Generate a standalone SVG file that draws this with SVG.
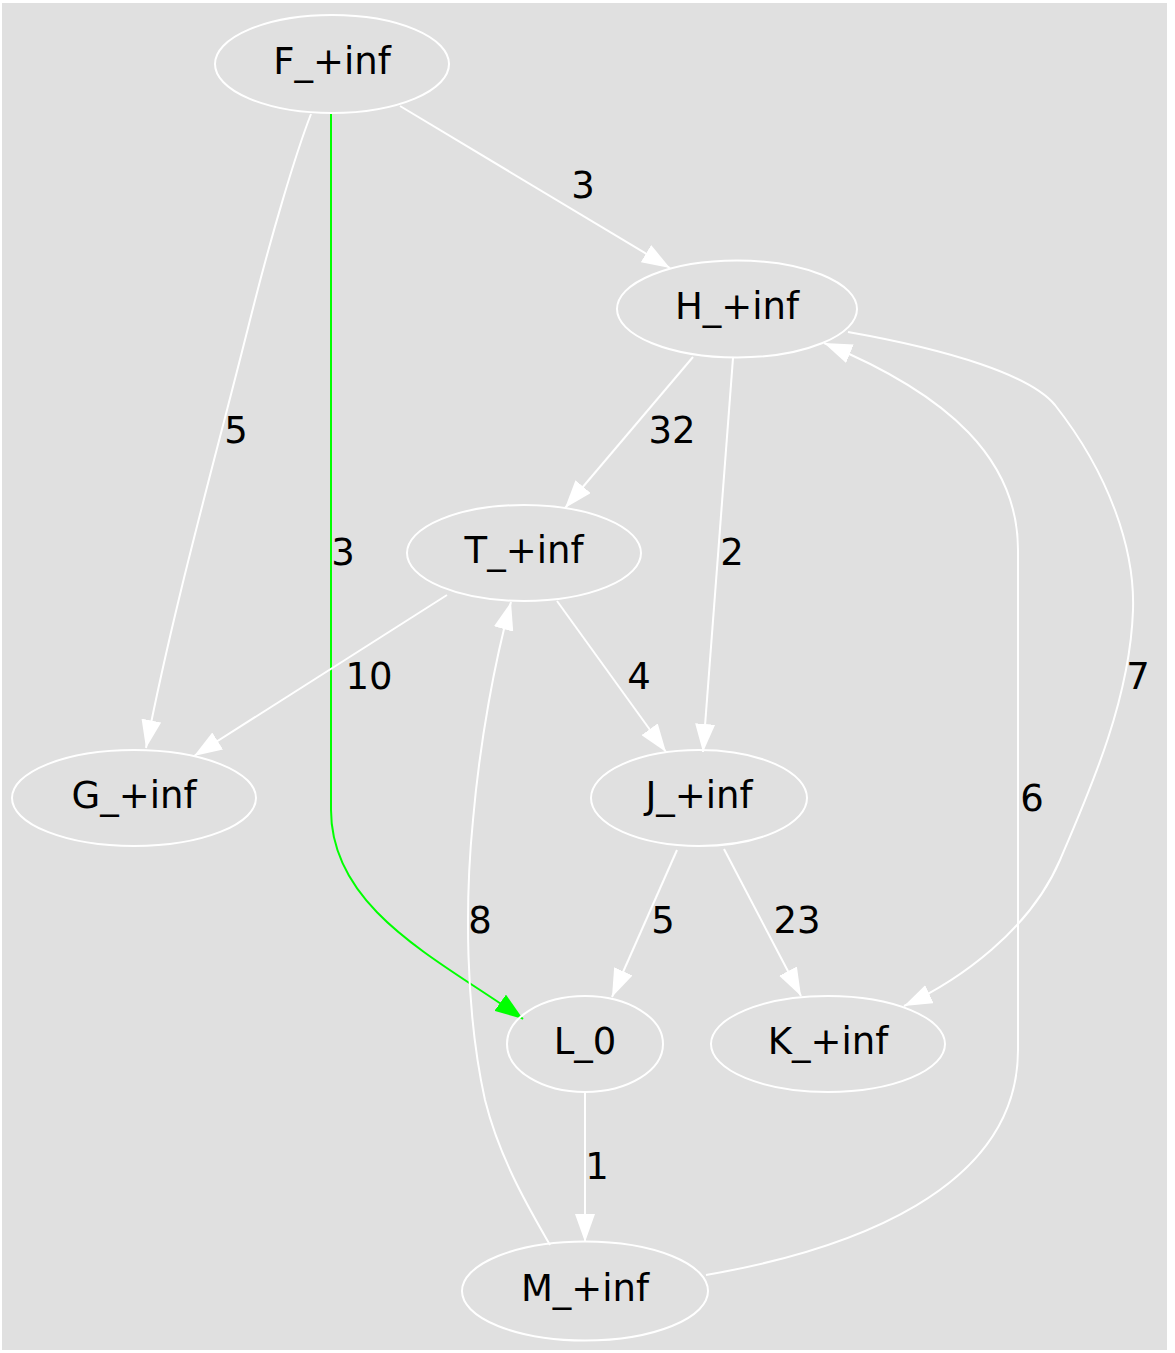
<svg xmlns="http://www.w3.org/2000/svg" width="1175" height="1353" viewBox="0 0 1175 1353">
<style>
.n ellipse{fill:none;stroke:#ffffff;stroke-width:2}
text{font-family:"DejaVu Sans",sans-serif;font-size:37px;fill:#000;text-anchor:middle}
.e path{fill:none;stroke:#ffffff;stroke-width:2}
.e path.g{stroke:#00ff00}
</style>
<defs>
<marker id="aw" markerUnits="userSpaceOnUse" viewBox="0 0 28 20" markerWidth="28" markerHeight="20" refX="28" refY="10" orient="auto"><path d="M0,0 L28,10 L0,20 z" fill="#ffffff"/></marker>
<marker id="ag" markerUnits="userSpaceOnUse" viewBox="0 0 28 20" markerWidth="28" markerHeight="20" refX="28" refY="10" orient="auto"><path d="M0,0 L28,10 L0,20 z" fill="#00ff00"/></marker>
</defs>
<rect x="0" y="0" width="1175" height="1353" fill="#ffffff"/>
<rect x="2" y="3" width="1165" height="1347" fill="#e0e0e0"/>
<g class="e" id="edges">
<path d="M311,114 C295,155 270,240 250,320 C215,460 175,600 146,748" marker-end="url(#aw)"/>
<path class="g" d="M331,114 L331,810 C331,910 440,960 523,1019" marker-end="url(#ag)"/>
<path d="M400,106 L670,268" marker-end="url(#aw)"/>
<path d="M693,357 L565,508" marker-end="url(#aw)"/>
<path d="M733,358 L703,752" marker-end="url(#aw)"/>
<path d="M848,332 C950,350 1030,375 1055,405 C1110,475 1135,550 1133,610 C1130,700 1090,790 1060,860 C1030,930 960,980 904,1006" marker-end="url(#aw)"/>
<path d="M447,595 L194,756" marker-end="url(#aw)"/>
<path d="M557,601 L666,752" marker-end="url(#aw)"/>
<path d="M677,850 L612,997" marker-end="url(#aw)"/>
<path d="M724,849 L801,996" marker-end="url(#aw)"/>
<path d="M585,1092 L585,1242" marker-end="url(#aw)"/>
<path d="M550,1245 C530,1210 500,1160 485,1100 C465,1010 465,900 473,820 C480,740 495,660 511,602" marker-end="url(#aw)"/>
<path d="M706,1275 C850,1250 1018,1190 1018,1050 L1018,550 C1018,460 950,395 824,343" marker-end="url(#aw)"/>
<text x="583" y="198">3</text>
<text x="236" y="443">5</text>
<text x="343" y="565">3</text>
<text x="672" y="443">32</text>
<text x="732" y="565">2</text>
<text x="369" y="689">10</text>
<text x="639" y="689">4</text>
<text x="1138" y="689">7</text>
<text x="1032" y="811">6</text>
<text x="663" y="933">5</text>
<text x="797" y="933">23</text>
<text x="480" y="933">8</text>
<text x="597" y="1179">1</text>
</g>
<g class="n" id="F"><ellipse cx="332" cy="64" rx="117" ry="49"/><text x="332" y="74">F_+inf</text></g>
<g class="n" id="H"><ellipse cx="737" cy="309" rx="120" ry="48.5"/><text x="737" y="319">H_+inf</text></g>
<g class="n" id="T"><ellipse cx="524" cy="553" rx="117" ry="48"/><text x="524" y="563">T_+inf</text></g>
<g class="n" id="G"><ellipse cx="134" cy="798" rx="122" ry="48"/><text x="134" y="808">G_+inf</text></g>
<g class="n" id="J"><ellipse cx="699" cy="798" rx="108" ry="48"/><text x="699" y="808">J_+inf</text></g>
<g class="n" id="L"><ellipse cx="585" cy="1044" rx="78" ry="48"/><text x="585" y="1054">L_0</text></g>
<g class="n" id="K"><ellipse cx="828" cy="1044" rx="117" ry="48"/><text x="828" y="1054">K_+inf</text></g>
<g class="n" id="M"><ellipse cx="585" cy="1291" rx="123" ry="49.5"/><text x="585" y="1301">M_+inf</text></g>
</svg>
